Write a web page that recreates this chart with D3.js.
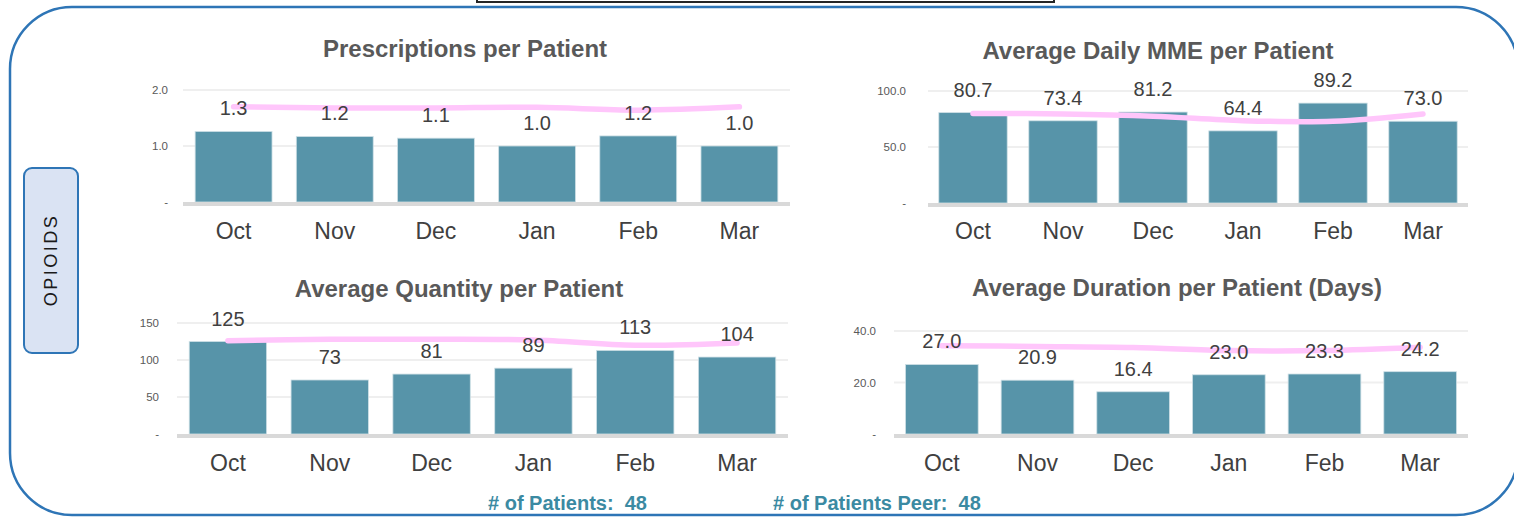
<!DOCTYPE html>
<html>
<head>
<meta charset="utf-8">
<script src="https://cdn.jsdelivr.net/npm/d3@7"></script>
<style>
  body { margin: 0; background: #fff; }
  svg { display: block; font-family: "Liberation Sans", Arial, sans-serif; }
</style>
</head>
<body>
<svg id="chart" width="1514" height="517"></svg>
<script>
// months shown on every panel
var months = ["Oct", "Nov", "Dec", "Jan", "Feb", "Mar"];

// Prescriptions per Patient
var rxPatient = [1.26, 1.17, 1.14, 1.00, 1.18, 1.00];
var rxPeer    = [1.70, 1.68, 1.68, 1.69, 1.64, 1.70];
var rxTicks   = [0, 1, 2];

// Average Daily MME per Patient
var mmePatient = [80.7, 73.4, 81.2, 64.4, 89.2, 73.0];
var mmePeer    = [80.0, 79.5, 77.5, 73.5, 73.0, 79.5];
var mmeTicks   = [0, 50, 100];

// Average Quantity per Patient
var qtyPatient = [125, 73, 81, 89, 113, 104];
var qtyPeer    = [126, 128, 128, 127, 120, 123];
var qtyTicks   = [0, 50, 100, 150];

// Average Duration per Patient (Days)
var durPatient = [27.0, 20.9, 16.4, 23.0, 23.3, 24.2];
var durPeer    = [34.3, 34.0, 33.6, 32.4, 32.4, 33.7];
var durTicks   = [0, 20, 40];

var patientCount = 48, peerCount = 48;

var svg = d3.select("#chart");

// frame bits
svg.append("rect")
    .attr("x", 477).attr("y", -30).attr("width", 577).attr("height", 32)
    .attr("fill", "#fff").attr("stroke", "#262626").attr("stroke-width", 2);

svg.append("rect")
    .attr("x", 10).attr("y", 7).attr("width", 1508).attr("height", 508)
    .attr("rx", 62).attr("ry", 62)
    .attr("fill", "none").attr("stroke", "#2e75b6").attr("stroke-width", 2.5);

svg.append("rect")
    .attr("x", 24).attr("y", 168).attr("width", 54).attr("height", 185)
    .attr("rx", 8).attr("fill", "#dae3f3")
    .attr("stroke", "#2e75b6").attr("stroke-width", 2);

svg.append("text")
    .attr("transform", "translate(57,260) rotate(-90)")
    .attr("text-anchor", "middle")
    .attr("font-size", 18).attr("letter-spacing", 2.5)
    .attr("fill", "#1a1a1a")
    .text("OPIOIDS");

function panel(opt) {
    var x = d3.scaleBand().domain(months).range(opt.xr)
        .paddingInner(0.24).paddingOuter(0.12);
    var y = d3.scaleLinear().domain([0, opt.ticks[opt.ticks.length - 1]]).range(opt.yr);
    var g = svg.append("g");

    // title
    g.append("text")
        .attr("x", opt.titleX).attr("y", opt.titleY)
        .attr("text-anchor", "middle").attr("dominant-baseline", "central")
        .attr("font-size", 24).attr("font-weight", "bold").attr("fill", "#595959")
        .text(opt.title);

    // gridlines
    g.selectAll(".grid").data(opt.ticks.slice(1)).enter().append("line")
        .attr("x1", opt.xr[0]).attr("x2", opt.xr[1])
        .attr("y1", function(d) { return y(d); })
        .attr("y2", function(d) { return y(d); })
        .attr("stroke", "#efefef").attr("stroke-width", 2);

    // y axis labels
    var yAxis = d3.axisLeft(y).tickValues(opt.ticks).tickSize(0).tickPadding(0)
        .tickFormat(function(d) { return d === 0 ? "-" : opt.fmt(d); });
    var ya = g.append("g")
        .attr("transform", "translate(" + opt.labelX + ",0)")
        .call(yAxis);
    ya.select(".domain").remove();
    ya.selectAll("text").attr("font-size", 11.5).attr("fill", "#595959")
        .attr("font-family", "Liberation Sans, Arial, sans-serif");

    // bars
    g.selectAll(".bar").data(opt.values).enter().append("rect")
        .attr("x", function(d, i) { return x(months[i]); })
        .attr("width", x.bandwidth())
        .attr("y", function(d) { return y(d); })
        .attr("height", function(d) { return y(0) - y(d); })
        .attr("fill", "#5794a9")
        .attr("stroke", "#cfe0e6").attr("stroke-width", 0.8);

    // baseline
    g.append("line")
        .attr("x1", opt.xr[0]).attr("x2", opt.xr[1])
        .attr("y1", y(0) + 2).attr("y2", y(0) + 2)
        .attr("stroke", "#d9d9d9").attr("stroke-width", 4);

    // peer line
    var line = d3.line()
        .x(function(d, i) { return x(months[i]) + x.bandwidth() / 2; })
        .y(function(d) { return y(d); })
        .curve(d3.curveCatmullRom);
    g.append("path").datum(opt.peer)
        .attr("d", line)
        .attr("fill", "none").attr("stroke", "#ffc6fb")
        .attr("stroke-width", 5.5).attr("stroke-linecap", "round");

    // value labels
    g.selectAll(".val").data(opt.values).enter().append("text")
        .attr("x", function(d, i) { return x(months[i]) + x.bandwidth() / 2; })
        .attr("y", function(d) { return y(d) - 23; })
        .attr("text-anchor", "middle").attr("dominant-baseline", "central")
        .attr("font-size", 20).attr("fill", "#404040")
        .text(function(d) { return opt.fmt(d); });

    // month labels
    g.selectAll(".mon").data(months).enter().append("text")
        .attr("x", function(d) { return x(d) + x.bandwidth() / 2; })
        .attr("y", opt.monthY)
        .attr("text-anchor", "middle").attr("dominant-baseline", "central")
        .attr("font-size", 23).attr("fill", "#404040")
        .text(function(d) { return d; });
}

var f1 = d3.format(".1f"), f0 = d3.format(".0f");

panel({ title: "Prescriptions per Patient", titleX: 465, titleY: 48,
        values: rxPatient, peer: rxPeer, ticks: rxTicks, fmt: f1,
        xr: [183, 790], yr: [202, 90], labelX: 168, monthY: 231 });
panel({ title: "Average Daily MME per Patient", titleX: 1158, titleY: 50,
        values: mmePatient, peer: mmePeer, ticks: mmeTicks, fmt: f1,
        xr: [928, 1468], yr: [203, 91], labelX: 906, monthY: 231 });
panel({ title: "Average Quantity per Patient", titleX: 459, titleY: 288,
        values: qtyPatient, peer: qtyPeer, ticks: qtyTicks, fmt: f0,
        xr: [177, 788], yr: [434, 323], labelX: 159, monthY: 463 });
panel({ title: "Average Duration per Patient (Days)", titleX: 1177, titleY: 287,
        values: durPatient, peer: durPeer, ticks: durTicks, fmt: f1,
        xr: [894, 1468], yr: [434, 331], labelX: 876, monthY: 463 });

// patient counts
svg.append("text")
    .attr("x", 488).attr("y", 503).attr("dominant-baseline", "central")
    .attr("font-size", 20).attr("font-weight", "bold").attr("fill", "#3b8aa2")
    .attr("xml:space", "preserve")
    .text("# of Patients:  " + patientCount);
svg.append("text")
    .attr("x", 773).attr("y", 503).attr("dominant-baseline", "central")
    .attr("font-size", 20).attr("font-weight", "bold").attr("fill", "#3b8aa2")
    .attr("xml:space", "preserve")
    .text("# of Patients Peer:  " + peerCount);
</script>
</body>
</html>
